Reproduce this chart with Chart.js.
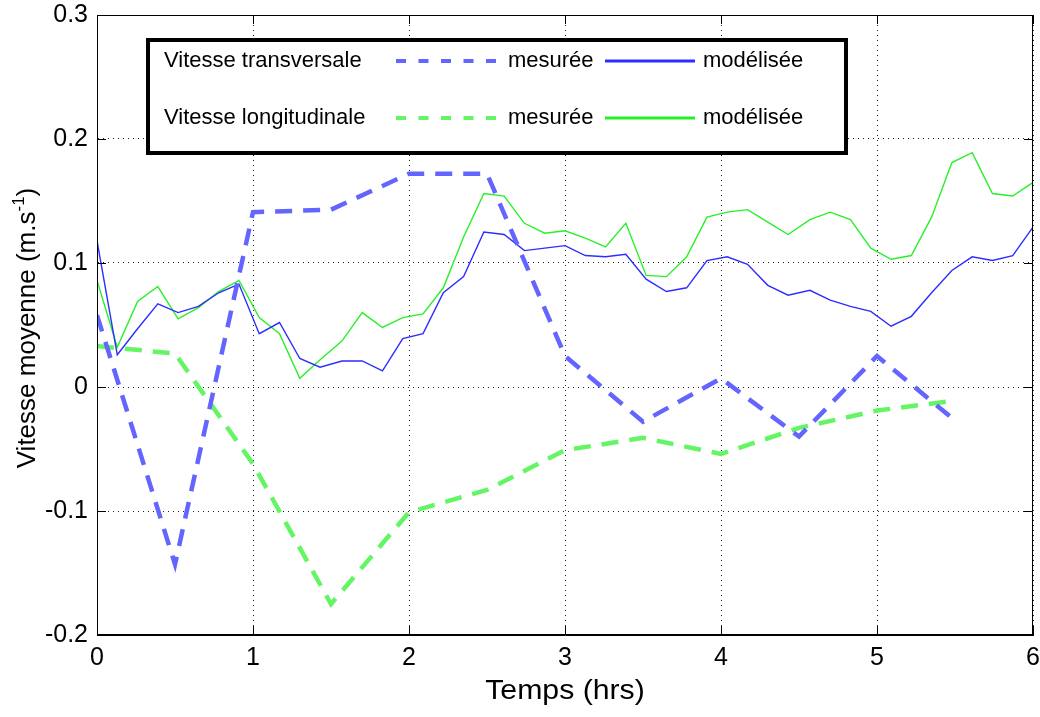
<!DOCTYPE html>
<html lang="fr">
<head>
<meta charset="UTF-8">
<title>Vitesse moyenne</title>
<script src="https://cdn.jsdelivr.net/npm/chart.js"></script>
<style>
  body { margin: 0; background: #fff; }
  #wrap { width: 1040px; height: 717px; position: relative; }
</style>
</head>
<body>
<div id="wrap"><canvas id="chart"></canvas></div>
<script>
// measured points, every half hour
const measTimes = [0, 0.5, 1, 1.5, 2, 2.5, 3, 3.5, 4, 4.5, 5, 5.5];
const transMeasured = [0.058, -0.143, 0.141, 0.143, 0.172, 0.172, 0.025, -0.028, 0.007, -0.040, 0.025, -0.027];
const longMeasured = [0.033, 0.027, -0.062, -0.175, -0.101, -0.083, -0.051, -0.041, -0.054, -0.033, -0.019, -0.011];

// model output times (hrs)
const modelTimes = [0, 0.13, 0.26, 0.39, 0.52, 0.65, 0.78, 0.91, 1.04, 1.17, 1.30, 1.43, 1.57, 1.70, 1.83, 1.96,
  2.09, 2.22, 2.35, 2.48, 2.61, 2.74, 2.87, 3.00, 3.13, 3.26, 3.39, 3.52, 3.65, 3.78, 3.91, 4.04, 4.17, 4.30,
  4.43, 4.57, 4.70, 4.83, 4.96, 5.09, 5.22, 5.35, 5.48, 5.61, 5.74, 5.87, 6.00];
const transModel = [0.118, 0.026, 0.047, 0.067, 0.060, 0.065, 0.076, 0.083, 0.043, 0.052, 0.023, 0.016, 0.021, 0.021,
  0.013, 0.039, 0.043, 0.076, 0.089, 0.125, 0.123, 0.110, 0.112, 0.114, 0.106, 0.105, 0.107, 0.087, 0.077, 0.080,
  0.102, 0.105, 0.099, 0.082, 0.074, 0.078, 0.070, 0.065, 0.061, 0.049, 0.057, 0.076, 0.094, 0.105, 0.102, 0.106, 0.129];
const longModel = [0.086, 0.032, 0.069, 0.081, 0.055, 0.064, 0.077, 0.086, 0.056, 0.043, 0.007, 0.022, 0.037, 0.060,
  0.048, 0.056, 0.059, 0.080, 0.121, 0.156, 0.154, 0.132, 0.124, 0.126, 0.120, 0.113, 0.132, 0.090, 0.089, 0.105,
  0.137, 0.141, 0.143, 0.133, 0.123, 0.135, 0.141, 0.135, 0.112, 0.103, 0.106, 0.137, 0.181, 0.189, 0.156, 0.154, 0.165];

const xTickValues = [0, 1, 2, 3, 4, 5, 6];
const yTickValues = [-0.2, -0.1, 0, 0.1, 0.2, 0.3];
const yTickLabels = ['-0.2', '-0.1', '0', '0.1', '0.2', '0.3'];

const xTitle = 'Temps (hrs)';
const yTitle = ['Vitesse moyenne (m.s', '-1', ')'];   // text, superscript, closing

const legendRows = ['Vitesse transversale', 'Vitesse longitudinale'];
const legendMeasured = 'mesurée';
const legendModel = 'modélisée';

const blueDash = 'rgb(100,100,255)';
const blueLine = 'rgb(45,45,255)';
const greenDash = 'rgb(100,245,100)';
const greenLine = 'rgb(40,240,40)';

function pts(xs, ys) {
  return xs.map((x, i) => ({ x: x, y: ys[i] }));
}

const FONT = "'Liberation Sans', Arial, Helvetica, sans-serif";

// box, inward ticks, axis titles and the legend, like the matlab figure
const framePlugin = {
  id: 'frame',
  afterDraw(chart) {
    const ctx = chart.ctx;
    const a = chart.chartArea;
    const xs = chart.scales.x, ys = chart.scales.y;
    ctx.save();
    ctx.strokeStyle = '#000';
    ctx.lineWidth = 1;
    ctx.strokeRect(a.left + 0.5, a.top + 0.5, a.right - a.left - 1, a.bottom - a.top - 1);
    ctx.beginPath();
    xTickValues.forEach(v => {
      const px = Math.round(xs.getPixelForValue(v)) + 0.5;
      ctx.moveTo(px, a.bottom); ctx.lineTo(px, a.bottom - 9);
      ctx.moveTo(px, a.top); ctx.lineTo(px, a.top + 9);
    });
    yTickValues.forEach(v => {
      const py = Math.round(ys.getPixelForValue(v)) + 0.5;
      ctx.moveTo(a.left, py); ctx.lineTo(a.left + 9, py);
      ctx.moveTo(a.right, py); ctx.lineTo(a.right - 9, py);
    });
    ctx.stroke();

    // axis titles
    ctx.fillStyle = '#000';
    ctx.textBaseline = 'middle';
    ctx.save();
    ctx.translate((a.left + a.right) / 2, 692);
    ctx.scale(1.12, 1);
    ctx.font = '27px ' + FONT;
    ctx.textAlign = 'center';
    ctx.fillText(xTitle, 0, 0);
    ctx.restore();

    ctx.save();
    ctx.translate(28, 328);
    ctx.rotate(-Math.PI / 2);
    ctx.textAlign = 'left';
    const big = '26px ' + FONT, small = '17px ' + FONT;
    ctx.font = big; const w1 = ctx.measureText(yTitle[0]).width, w3 = ctx.measureText(yTitle[2]).width;
    ctx.font = small; const w2 = ctx.measureText(yTitle[1]).width;
    let x0 = -(w1 + w2 + w3) / 2;
    ctx.font = big; ctx.fillText(yTitle[0], x0, 0);
    ctx.font = small; ctx.fillText(yTitle[1], x0 + w1, -9);
    ctx.font = big; ctx.fillText(yTitle[2], x0 + w1 + w2, 0);
    ctx.restore();

    // legend box
    const bx = 148, by = 40, bw = 698, bh = 113;
    ctx.fillStyle = '#fff';
    ctx.fillRect(bx, by, bw, bh);
    ctx.lineWidth = 4;
    ctx.strokeStyle = '#000';
    ctx.strokeRect(bx, by, bw, bh);
    ctx.font = '22px ' + FONT;
    ctx.textAlign = 'left';
    ctx.fillStyle = '#000';
    const rowsY = [61, 118];
    const colors = [[blueDash, blueLine], [greenDash, greenLine]];
    legendRows.forEach((txt, i) => {
      const y = rowsY[i];
      ctx.fillText(txt, 164, y);
      ctx.fillText(legendMeasured, 508, y);
      ctx.fillText(legendModel, 703, y);
      ctx.strokeStyle = colors[i][0];
      ctx.lineWidth = 4;
      ctx.setLineDash([10, 12.5]);
      ctx.beginPath(); ctx.moveTo(396, y); ctx.lineTo(500, y); ctx.stroke();
      ctx.setLineDash([]);
      ctx.strokeStyle = colors[i][1];
      ctx.lineWidth = 3;
      ctx.beginPath(); ctx.moveTo(605, y); ctx.lineTo(695, y); ctx.stroke();
    });
    ctx.restore();
  }
};

new Chart(document.getElementById('chart'), {
  type: 'line',
  data: {
    datasets: [
      { label: 'Vitesse transversale mesurée', data: pts(measTimes, transMeasured), borderColor: blueDash,
        borderWidth: 4.5, borderDash: [17, 11] },
      { label: 'Vitesse longitudinale mesurée', data: pts(measTimes, longMeasured), borderColor: greenDash,
        borderWidth: 4.5, borderDash: [17, 11] },
      { label: 'Vitesse transversale modélisée', data: pts(modelTimes, transModel), borderColor: blueLine,
        borderWidth: 1.4 },
      { label: 'Vitesse longitudinale modélisée', data: pts(modelTimes, longModel), borderColor: greenLine,
        borderWidth: 1.4 }
    ]
  },
  options: {
    responsive: true,
    maintainAspectRatio: false,
    animation: false,
    layout: { padding: { top: 15, right: 7, left: 0, bottom: 0 } },
    elements: { point: { radius: 0 }, line: { tension: 0, fill: false } },
    plugins: { legend: { display: false }, tooltip: { enabled: false } },
    scales: {
      x: {
        type: 'linear', min: 0, max: 6,
        afterBuildTicks: s => { s.ticks = xTickValues.map(v => ({ value: v })); },
        afterFit: s => { s.height = 82; s.paddingRight = 0; s.paddingLeft = 0; },
        ticks: { color: '#000', font: { family: FONT, size: 25 }, padding: 8, maxRotation: 0 },
        grid: { color: '#222', lineWidth: 1, drawTicks: false },
        border: { display: true, color: '#000', dash: [1, 4] }
      },
      y: {
        type: 'linear', min: -0.2, max: 0.3,
        afterBuildTicks: s => { s.ticks = yTickValues.map(v => ({ value: v })); },
        afterFit: s => { s.width = 97; s.paddingTop = 0; s.paddingBottom = 0; },
        ticks: { color: '#000', font: { family: FONT, size: 25 }, padding: 9,
          callback: (v) => yTickLabels[yTickValues.findIndex(t => Math.abs(t - v) < 1e-9)] },
        grid: { color: '#222', lineWidth: 1, drawTicks: false },
        border: { display: true, color: '#000', dash: [1, 4] }
      }
    }
  },
  plugins: [framePlugin]
});
</script>
</body>
</html>
